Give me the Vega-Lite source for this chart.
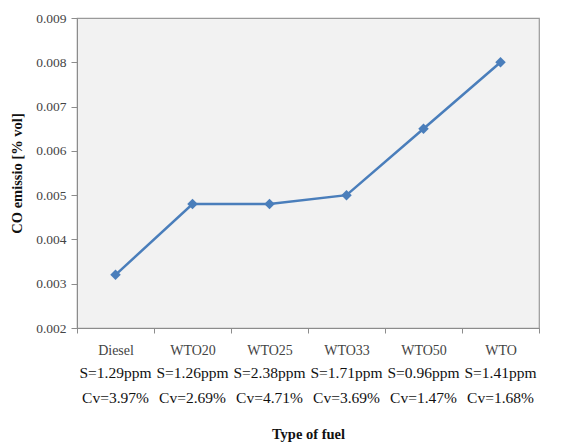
{
  "$schema": "https://vega.github.io/schema/vega-lite/v6.json",
  "width": 462,
  "height": 310,
  "autosize": "none",
  "padding": {"left": 77, "top": 18, "right": 25, "bottom": 120},
  "background": "white",
  "config": {
    "font": "Liberation Serif",
    "view": {"fill": "#f2f2f2", "stroke": "#9a9a9a", "strokeWidth": 1.2},
    "axis": {"labelFont": "Liberation Serif", "titleFont": "Liberation Serif", "labelColor": "#222", "titleColor": "#111", "domainColor": "#8c8c8c", "tickColor": "#8c8c8c", "grid": false}
  },
  "data": {"values": [
    {"label": "Diesel|S=1.29ppm|Cv=3.97%", "co": 0.0032},
    {"label": "WTO20|S=1.26ppm|Cv=2.69%", "co": 0.0048},
    {"label": "WTO25|S=2.38ppm|Cv=4.71%", "co": 0.0048},
    {"label": "WTO33|S=1.71ppm|Cv=3.69%", "co": 0.0050},
    {"label": "WTO50|S=0.96ppm|Cv=1.47%", "co": 0.0065},
    {"label": "WTO|S=1.41ppm|Cv=1.68%", "co": 0.0080}
  ]},
  "encoding": {
    "y": {"field": "co", "type": "quantitative", "scale": {"domain": [0.002, 0.009], "nice": false, "zero": false},
      "axis": {"values": [0.002, 0.003, 0.004, 0.005, 0.006, 0.007, 0.008, 0.009], "format": ".3f", "title": "CO emissio [% vol]", "titleFont": "Liberation Serif", "labelFont": "Liberation Serif", "labelColor": "#444", "titleFontWeight": "bold", "titleFontSize": 14.5, "labelFontSize": 13.5, "labelPadding": 5, "tickSize": 6, "titlePadding": 11}}
  },
  "layer": [
    {
      "mark": {"type": "line", "color": "#4a7ebb", "strokeWidth": 2.5},
      "encoding": {
        "x": {"field": "label", "type": "ordinal", "sort": null, "scale": {"paddingInner": 0, "paddingOuter": 0},
          "axis": {"orient": "bottom", "labelAngle": 0, "labelExpr": "isString(datum.value) ? split(datum.value, '|')[0] : ''", "labelFont": "Liberation Serif", "labelFontSize": 14, "labelColor": "#444", "tickBand": "extent", "tickSize": 5, "labelPadding": 10, "title": null}}
      }
    },
    {
      "mark": {"type": "point", "shape": "diamond", "filled": true, "color": "#4a7ebb", "opacity": 1, "size": 110},
      "encoding": {
        "x": {"field": "label", "type": "ordinal", "sort": null, "scale": {"paddingInner": 0, "paddingOuter": 0},
          "axis": {"orient": "bottom", "labelAngle": 0, "labelExpr": "slice(split(datum.value, '|'), 1)", "labelFont": "Liberation Serif", "labelFontSize": 15.5, "labelLineHeight": 25, "labelColor": "#111", "labelOverlap": false, "ticks": false, "domain": false, "labelPadding": 37, "title": "Type of fuel", "titleFont": "Liberation Serif", "titleFontWeight": "bold", "titleFontSize": 14.5, "titlePadding": 22}}
      }
    }
  ],
  "resolve": {"axis": {"x": "independent"}}
}
